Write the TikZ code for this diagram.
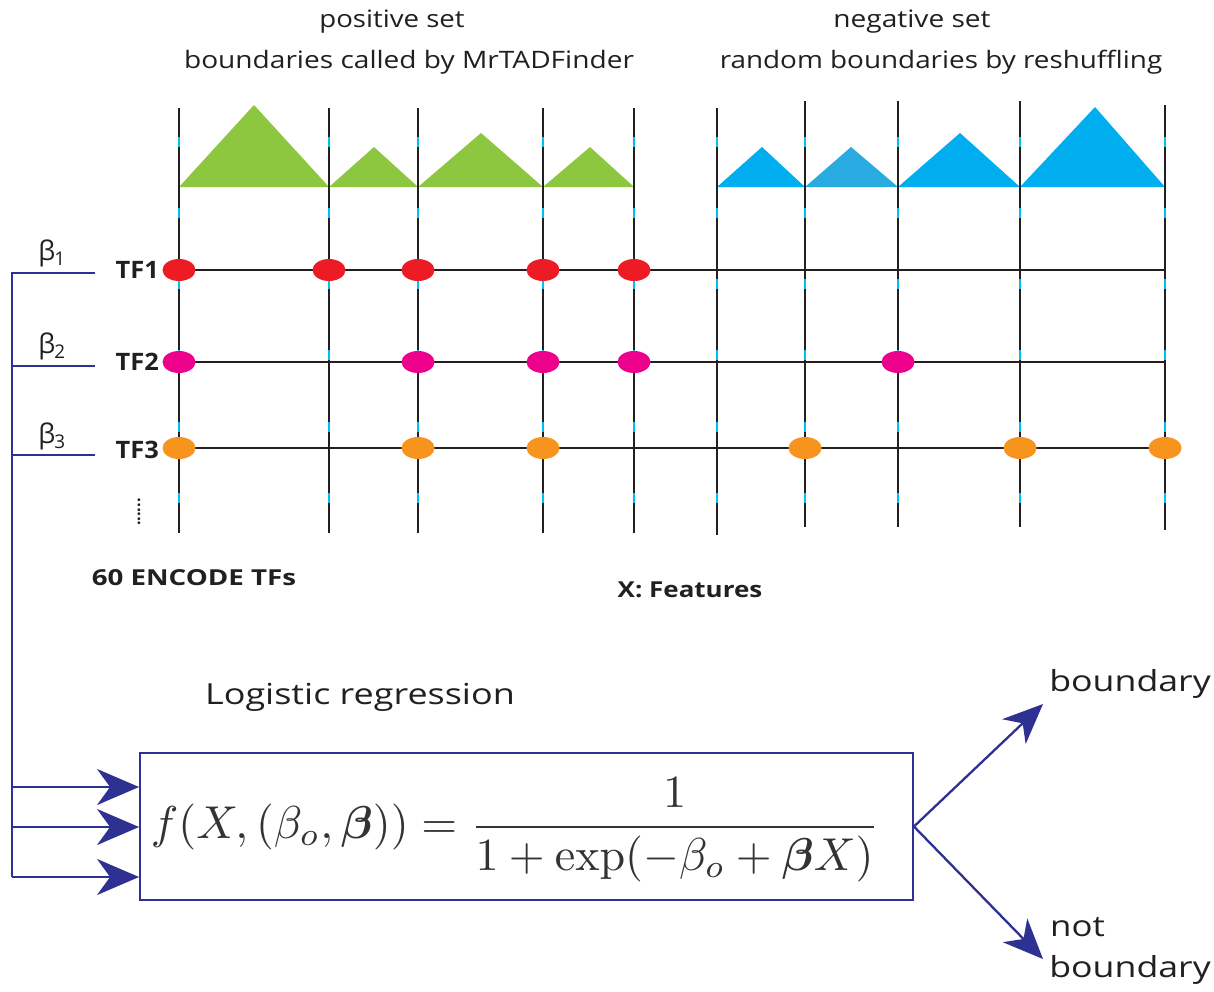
\documentclass[tikz,border=0pt]{standalone}
\usepackage{amsmath}
\usepackage{graphicx}
\usepackage[no-math]{fontspec}
\setmainfont{Open Sans}
\newfontfamily\grk{Open Sans}
\usetikzlibrary{arrows.meta,shapes.geometric}
\definecolor{tfred}{RGB}{237,28,36}
\definecolor{tfmag}{RGB}{236,0,140}
\definecolor{tforange}{RGB}{247,148,29}
\definecolor{tadgreen}{RGB}{141,198,63}
\definecolor{tadblue}{RGB}{0,174,239}
\definecolor{tadblueb}{RGB}{41,171,226}
\definecolor{navy}{RGB}{46,49,146}
\definecolor{tickc}{RGB}{0,191,243}
\definecolor{txt}{RGB}{35,31,32}
\newcommand{\hsc}[2]{\scalebox{#1}[1]{#2}}
\begin{document}
\begin{tikzpicture}[x=1pt,y=-1pt,
  gridline/.style={line width=2.4pt, draw=txt},
  cyanmark/.style={line width=2.4pt, draw=tickc},
  tfdot/.style={ellipse, minimum width=33pt, minimum height=22pt, inner sep=0pt, fill=#1, draw=none},
  navyline/.style={line width=1.9pt, draw=navy},
  navyarrow/.style={line width=1.9pt, draw=navy, -{Stealth[length=42pt,width=36pt,inset=13pt]}},
  outarrow/.style={line width=2.3pt, draw=navy, -{Stealth[length=40pt,width=34pt,inset=12pt]}},
  title/.style={font=\fontsize{24}{28}\selectfont, text=txt, inner sep=0pt},
  tflabel/.style={font=\bfseries\fontsize{24}{28}\selectfont, text=txt, inner sep=0pt, anchor=east},
  betalabel/.style={font=\grk\fontsize{27}{28}\selectfont, text=txt, inner sep=0pt},
  biglabel/.style={font=\fontsize{29}{34}\selectfont, text=txt, inner sep=0pt}
]
\useasboundingbox (0,0) rectangle (1214,991);
\fill[white] (0,0) rectangle (1214,991);

% titles
\node[title] (t1) at (392,22) {\hsc{1.15}{positive set}};
\node[title] (t2) at (409,62) {\hsc{1.17}{boundaries called by MrTADFinder}};
\node[title] (t3) at (912,22) {\hsc{1.17}{negative set}};
\node[title] (t4) at (941,62) {\hsc{1.16}{random boundaries by reshuffling}};

% TAD triangles
\fill[tadgreen] (179,187) -- (254,105) -- (329,187) -- cycle;
\fill[tadgreen] (329,187) -- (374,147) -- (418,187) -- cycle;
\fill[tadgreen] (418,187) -- (481,133) -- (543,187) -- cycle;
\fill[tadgreen] (543,187) -- (590,147) -- (634,187) -- cycle;
\fill[tadblue] (717,187) -- (762,147) -- (805,187) -- cycle;
\fill[tadblueb] (805,187) -- (851,147) -- (898,187) -- cycle;
\fill[tadblue] (898,187) -- (960,133) -- (1020,187) -- cycle;
\fill[tadblue] (1020,187) -- (1095,107) -- (1165,187) -- cycle;

% vertical boundary lines
\foreach \i/\x/\ya/\yb in {1/179/108/533, 2/329/108/533, 3/418/108/533, 4/543/108/533, 5/634/108/533,
                           6/717/108/535, 7/805/101/527, 8/898/101/527, 9/1020/101/527, 10/1165/105/530}{
  \coordinate (vt\i) at (\x,\ya);
  \coordinate (vb\i) at (\x,\yb);
  \draw[gridline] (vt\i) -- (vb\i);
  \foreach \yy in {142,213,284,355,427,498}{
    \draw[cyanmark] (\x,\yy-5) -- (\x,\yy+5);
  }
}

% TF rows
\coordinate (r1a) at (179,270); \coordinate (r1b) at (1165,270);
\coordinate (r2a) at (179,362); \coordinate (r2b) at (1165,362);
\coordinate (r3a) at (179,448); \coordinate (r3b) at (1165,448);
\draw[gridline] (r1a) -- (r1b);
\draw[gridline] (r2a) -- (r2b);
\draw[gridline] (r3a) -- (r3b);

\foreach \x [count=\k] in {179,329,418,543,634}{
  \node[tfdot=tfred] (da\k) at (\x,270) {};
}
\foreach \x [count=\k] in {179,418,543,634,898}{
  \node[tfdot=tfmag] (db\k) at (\x,362) {};
}
\foreach \x [count=\k] in {179,418,543,805,1020,1165}{
  \node[tfdot=tforange] (dc\k) at (\x,448) {};
}

% TF labels
\node[tflabel] (tf1) at (159,270) {\hsc{1.06}{TF1}};
\node[tflabel] (tf2) at (159,362) {\hsc{1.06}{TF2}};
\node[tflabel] (tf3) at (159,450) {\hsc{1.06}{TF3}};
\node[text=txt, font=\bfseries\fontsize{16}{16}\selectfont, rotate=90, inner sep=0pt] (vdots) at (139,512) {......};

% beta labels and bracket
\node[betalabel] (b1) at (52,253) {β\kern-1pt\textsubscript{1}};
\node[betalabel] (b2) at (52,346) {β\kern-1pt\textsubscript{2}};
\node[betalabel] (b3) at (52,436) {β\kern-1pt\textsubscript{3}};
\coordinate (k1) at (12,273); \coordinate (k1e) at (95,273);
\coordinate (k2) at (12,366); \coordinate (k2e) at (95,366);
\coordinate (k3) at (12,455); \coordinate (k3e) at (95,455);
\coordinate (a1) at (12,787);
\coordinate (a2) at (12,827);
\coordinate (a3) at (12,877);
\draw[navyline] (k1e) -- (k1) -- (a3);
\draw[navyline] (k2) -- (k2e);
\draw[navyline] (k3) -- (k3e);

% other labels
\node[font=\bfseries\fontsize{22}{26}\selectfont, text=txt, inner sep=0pt] (enc) at (194,578) {\hsc{1.26}{60 ENCODE TFs}};
\node[font=\bfseries\fontsize{22}{26}\selectfont, text=txt, inner sep=0pt] (feat) at (690,590) {\hsc{1.18}{X: Features}};
\node[biglabel] (lr) at (360,697) {\hsc{1.24}{Logistic regression}};

% model box
\node[draw=navy, line width=1.9pt, minimum width=773pt, minimum height=147pt, inner sep=0pt] (box) at (526.5,826.5) {};
\node[inner sep=0pt, text=black!80] (formula) at (515,830)
  {\resizebox{728pt}{!}{$\displaystyle f(X,(\beta_o,\boldsymbol{\beta})) = \frac{1}{1+\exp(-\beta_o+\boldsymbol{\beta} X)}$}};

\draw[navyarrow] (a1) -- (a1 -| box.west);
\draw[navyarrow] (a2) -- (a2 -| box.west);
\draw[navyarrow] (a3) -- (a3 -| box.west);

% outputs
\coordinate (oT) at (1043,704);
\coordinate (oB) at (1043,959);
\draw[outarrow] (box.east) -- (oT);
\draw[outarrow] (box.east) -- (oB);
\node[biglabel] (yes) at (1130,684) {\hsc{1.23}{boundary}};
\node[biglabel, anchor=west] (no1) at (1050,927) {\hsc{1.2}{not}};
\node[biglabel] (no2) at (1130,970) {\hsc{1.23}{boundary}};
\end{tikzpicture}
\end{document}
